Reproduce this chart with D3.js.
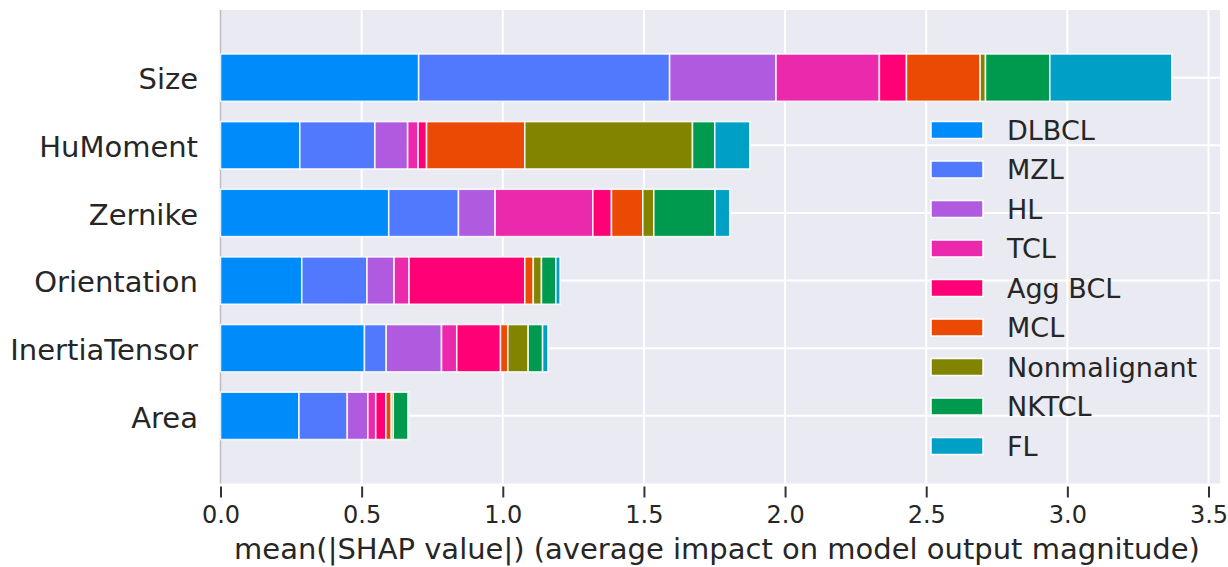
<!DOCTYPE html>
<html>
<head>
<meta charset="utf-8">
<script src="https://cdn.jsdelivr.net/npm/d3@7"></script>
<style>
  body { margin: 0; background: #ffffff; }
  text { font-family: "DejaVu Sans", sans-serif; fill: #262626; }
</style>
</head>
<body>
<script>
// Define SVG area dimensions
var svgWidth = 1228;
var svgHeight = 567;

// features, top to bottom
const features = ["Size", "HuMoment", "Zernike", "Orientation", "InertiaTensor", "Area"];

// classes in stacking order
const classes = ["DLBCL", "MZL", "HL", "TCL", "Agg BCL", "MCL", "Nonmalignant", "NKTCL", "FL"];
const classColors = ["#008bfb", "#5079fd", "#b05bdf", "#eb29ad", "#ff0076", "#ea4a03", "#828400", "#009a4e", "#009fc6"];

// mean |SHAP| per class, one array per feature (same order as classes)
const sizeVals        = [0.702, 0.889, 0.377, 0.366, 0.096, 0.261, 0.019, 0.228, 0.432];
const huMomentVals    = [0.281, 0.266, 0.116, 0.037, 0.030, 0.348, 0.594, 0.079, 0.124];
const zernikeVals     = [0.596, 0.247, 0.130, 0.346, 0.066, 0.111, 0.039, 0.217, 0.052];
const orientationVals = [0.288, 0.231, 0.096, 0.053, 0.410, 0.030, 0.029, 0.051, 0.015];
const inertiaVals     = [0.510, 0.077, 0.196, 0.054, 0.155, 0.026, 0.072, 0.051, 0.019];
const areaVals        = [0.278, 0.171, 0.073, 0.028, 0.036, 0.019, 0.007, 0.053, 0.002];

const featureVals = [sizeVals, huMomentVals, zernikeVals, orientationVals, inertiaVals, areaVals];

const xTicks = [0, 0.5, 1.0, 1.5, 2.0, 2.5, 3.0, 3.5];
const xLabel = "mean(|SHAP value|) (average impact on model output magnitude)";

// plot area
var plot = { left: 220.5, right: 1220, top: 10, bottom: 483.5 };

var svg = d3.select("body")
  .append("svg")
  .attr("width", svgWidth)
  .attr("height", svgHeight);

var xScale = d3.scaleLinear()
  .domain([0, 3.5])
  .range([plot.left, 1208.5]);

// rows: index -1 .. 6 spans the plot height
var yScale = d3.scaleLinear()
  .domain([-1, 6])
  .range([plot.top, plot.bottom]);

var rowStep = yScale(1) - yScale(0);
var barH = rowStep * 0.7;

// background
svg.append("rect")
  .attr("x", plot.left)
  .attr("y", plot.top)
  .attr("width", plot.right - plot.left)
  .attr("height", plot.bottom - plot.top)
  .attr("fill", "#eaeaf2");

// grid
var grid = svg.append("g");
grid.selectAll("line.vx")
  .data(xTicks.slice(1))
  .enter().append("line")
  .attr("x1", d => xScale(d)).attr("x2", d => xScale(d))
  .attr("y1", plot.top).attr("y2", plot.bottom)
  .attr("stroke", "#ffffff").attr("stroke-width", 2);

grid.selectAll("line.hy")
  .data(features)
  .enter().append("line")
  .attr("x1", plot.left).attr("x2", plot.right)
  .attr("y1", (d, i) => yScale(i)).attr("y2", (d, i) => yScale(i))
  .attr("stroke", "#ffffff").attr("stroke-width", 2);

// left spine
svg.append("line")
  .attr("x1", plot.left).attr("x2", plot.left)
  .attr("y1", plot.top).attr("y2", plot.bottom)
  .attr("stroke", "#bcbcc4").attr("stroke-width", 1.5);

// stacked bars
features.forEach(function(f, i) {
  var acc = 0;
  var segs = featureVals[i].map(function(v, k) {
    var s = { x0: acc, x1: acc + v, color: classColors[k] };
    acc += v;
    return s;
  });
  svg.append("g").selectAll("rect")
    .data(segs)
    .enter().append("rect")
    .attr("x", d => xScale(d.x0))
    .attr("width", d => Math.max(0, xScale(d.x1) - xScale(d.x0)))
    .attr("y", yScale(i) - barH / 2)
    .attr("height", barH)
    .attr("fill", d => d.color)
    .attr("stroke", "#ffffff")
    .attr("stroke-opacity", 0.85)
    .attr("stroke-width", 1.6);
});

// y labels
svg.append("g").selectAll("text")
  .data(features)
  .enter().append("text")
  .attr("x", 198)
  .attr("y", (d, i) => yScale(i) + 1.5)
  .attr("dy", "0.35em")
  .attr("text-anchor", "end")
  .style("font-size", "29px")
  .text(d => d);

// x axis
var xAxis = d3.axisBottom(xScale)
  .tickValues(xTicks)
  .tickFormat(d3.format(".1f"))
  .tickSize(11)
  .tickPadding(8);

var xAxisG = svg.append("g")
  .attr("transform", `translate(0, ${plot.bottom + 3})`)
  .call(xAxis);
xAxisG.select(".domain").remove();
xAxisG.selectAll(".tick line").attr("stroke", "#333333").attr("stroke-width", 2);
xAxisG.selectAll(".tick text")
  .style("font-size", "24px")
  .style("font-family", "DejaVu Sans")
  .attr("fill", "#262626");

svg.append("text")
  .attr("x", 717)
  .attr("y", 559)
  .attr("text-anchor", "middle")
  .style("font-size", "29px")
  .text(xLabel);

// legend
var legend = svg.append("g").attr("transform", "translate(931, 130)");
var legendItems = legend.selectAll("g")
  .data(classes)
  .enter().append("g")
  .attr("transform", (d, i) => `translate(0, ${i * 39.5})`);

legendItems.append("rect")
  .attr("x", 0).attr("y", -8.5)
  .attr("width", 52).attr("height", 17)
  .attr("fill", (d, i) => classColors[i])
  .attr("stroke", "#ffffff").attr("stroke-width", 1.5);

legendItems.append("text")
  .attr("x", 76)
  .attr("y", 0)
  .attr("dy", "0.36em")
  .style("font-size", "27px")
  .text(d => d);
</script>
</body>
</html>
